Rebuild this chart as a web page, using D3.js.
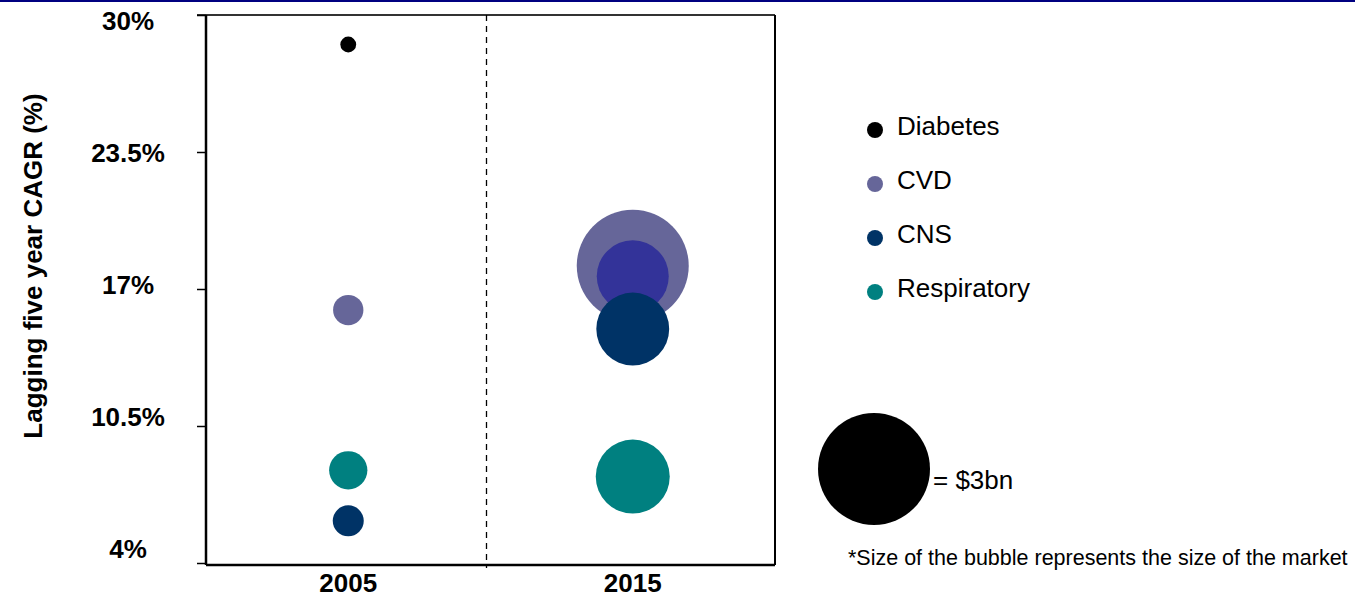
<!DOCTYPE html>
<html>
<head>
<meta charset="utf-8">
<script src="https://cdn.jsdelivr.net/npm/d3@7"></script>
<style>
  body { margin: 0; background: white; }
  svg { display: block; font-family: "Liberation Sans", Arial, sans-serif; }
</style>
</head>
<body>
<svg id="mainSvg" width="1355" height="597"></svg>
<script>
// chart values
var years = ["2005", "2015"];
var series = ["Diabetes", "CVD", "CNS", "Respiratory"];
var seriesColors = ["#000000", "#666699", "#003366", "#008080"];
var yTicks = [4, 10.5, 17, 23.5, 30];
var yTickLabels = ["4%", "10.5%", "17%", "23.5%", "30%"];

// lagging five year CAGR (%) per series, and market size ($bn)
var cagr2005 = [28.6, 16.0, 6.0, 8.4];
var size2005 = [0.06, 0.22, 0.23, 0.35];
var cagr2015 = [17.6, 18.1, 15.1, 8.1];
var size2015 = [1.24, 3.0, 1.27, 1.31];
var fill2015 = ["#333399", "#666699", "#003366", "#008080"];
var refSize = 3; // legend bubble, $bn

var svg = d3.select("#mainSvg");
// note: "top" is taken by window.top, so plot edges get their own names
var plotLeft = 206, plotRight = 775, plotTop = 15, plotBottom = 565;

var x = d3.scaleBand().domain(years).range([plotLeft, plotRight]);
var y = d3.scaleLinear().domain([4, 30]).range([563, plotTop]);
var yLabel = d3.scaleLinear().domain([4, 30]).range([558, 30]);
var r = d3.scaleSqrt().domain([0, refSize]).range([0, 56]);

// navy rule at the very top
svg.append("rect")
  .attr("x", 0).attr("y", 0)
  .attr("width", 1355).attr("height", 2)
  .attr("fill", "#000080");

// frame
svg.append("line")
  .attr("x1", plotLeft - 9).attr("x2", plotRight).attr("y1", plotTop).attr("y2", plotTop)
  .style("stroke", "#333").style("stroke-width", 2);
svg.append("line")
  .attr("x1", plotRight).attr("x2", plotRight).attr("y1", plotTop).attr("y2", plotBottom)
  .style("stroke", "#000").style("stroke-width", 2);
svg.append("line")
  .attr("x1", plotLeft).attr("x2", plotRight).attr("y1", plotBottom).attr("y2", plotBottom)
  .style("stroke", "#000").style("stroke-width", 2.5);

// divider between the two years
var divX = x("2015") - 4;
svg.append("line")
  .attr("x1", divX).attr("x2", divX).attr("y1", plotTop).attr("y2", plotBottom + 3)
  .style("stroke", "#000").style("stroke-width", 1.3)
  .style("stroke-dasharray", "6,5");

// y axis
var yAxis = d3.axisLeft(y).tickValues(yTicks).tickSize(9).tickFormat("");
var gy = svg.append("g")
  .attr("transform", "translate(" + plotLeft + ",0)")
  .call(yAxis);
gy.select(".domain").attr("d", "M0," + plotTop + "V" + plotBottom)
  .style("stroke", "#000").style("stroke-width", 2.5);
gy.selectAll(".tick line").style("stroke", "#000").style("stroke-width", 1.5);

svg.selectAll(".ylab")
  .data(yTicks)
  .enter().append("text")
    .attr("class", "ylab")
    .attr("x", 128)
    .attr("y", function(d){ return yLabel(d); })
    .attr("text-anchor", "middle")
    .attr("font-size", 26)
    .attr("font-weight", "bold")
    .text(function(d, i){ return yTickLabels[i]; });

svg.append("text")
  .attr("transform", "translate(42,266) rotate(-90)")
  .attr("text-anchor", "middle")
  .attr("font-size", 26)
  .attr("font-weight", "bold")
  .text("Lagging five year CAGR (%)");

// x labels
svg.selectAll(".xlab")
  .data(years)
  .enter().append("text")
    .attr("class", "xlab")
    .attr("x", function(d){ return x(d) + x.bandwidth() / 2; })
    .attr("y", 592)
    .attr("text-anchor", "middle")
    .attr("font-size", 26)
    .attr("font-weight", "bold")
    .text(function(d){ return d; });

// bubbles
var bubbles = [];
for (var i = 0; i < series.length; i++) {
  bubbles.push({year: "2005", name: series[i], v: cagr2005[i], size: size2005[i], fill: seriesColors[i]});
}
for (var j = 0; j < series.length; j++) {
  bubbles.push({year: "2015", name: series[j], v: cagr2015[j], size: size2015[j], fill: fill2015[j]});
}
// higher ones first so lower bubbles sit on top
bubbles.sort(function(a, b){ return b.v - a.v; });

svg.selectAll(".bubble")
  .data(bubbles)
  .enter().append("circle")
    .attr("class", "bubble")
    .attr("cx", function(d){ return x(d.year) + x.bandwidth() / 2; })
    .attr("cy", function(d){ return y(d.v); })
    .attr("r", function(d){ return r(d.size); })
    .style("fill", function(d){ return d.fill; });

// legend
var legendY = d3.scalePoint().domain(series).range([130, 292]);
var legend = svg.selectAll(".legend")
  .data(series)
  .enter().append("g")
    .attr("class", "legend")
    .attr("transform", function(d){ return "translate(875," + legendY(d) + ")"; });
legend.append("circle")
  .attr("r", 8)
  .style("fill", function(d, i){ return seriesColors[i]; });
legend.append("text")
  .attr("x", 22)
  .attr("y", 5)
  .attr("font-size", 26)
  .text(function(d){ return d; });

// size key
svg.append("circle")
  .attr("cx", 874).attr("cy", 469)
  .attr("r", r(refSize))
  .style("fill", "#000");
svg.append("text")
  .attr("x", 933).attr("y", 489)
  .attr("font-size", 26)
  .text("= $3bn");
svg.append("text")
  .attr("x", 848).attr("y", 565)
  .attr("font-size", 21.5)
  .text("*Size of the bubble represents the size of the market");
</script>
</body>
</html>
